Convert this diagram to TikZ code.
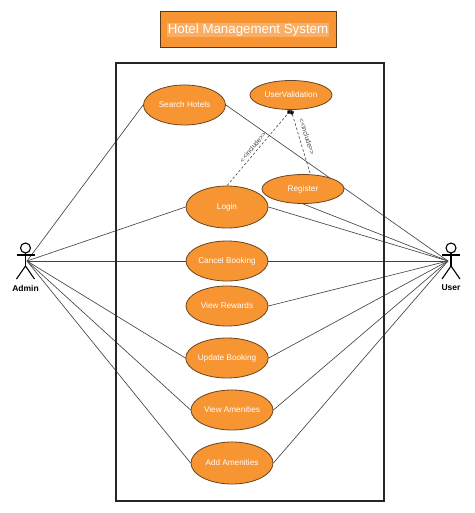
\documentclass[tikz,border=0pt]{standalone}
\usepackage{fontspec}
\setmainfont{Liberation Sans}
\usetikzlibrary{arrows.meta,shapes.geometric}
\definecolor{uc}{HTML}{F79532}
\definecolor{ucline}{HTML}{6B4520}
\definecolor{hl}{HTML}{FBAE63}
\definecolor{ln}{HTML}{444444}
\pgfdeclarelayer{linelayer}
\pgfsetlayers{linelayer,main}
\tikzset{
  x=1pt,y=-1pt,
  usecase/.style={ellipse,draw=ucline,fill=uc,line width=.8pt,text=white,font=\fontsize{8.2}{10}\selectfont,inner sep=0pt,minimum width=82pt},
  assoc/.style={draw=ln,line width=.65pt},
  incl/.style={draw=ln,line width=.6pt,dash pattern=on 2.5pt off 2pt,-{Diamond[fill=black,length=5.5pt,width=5pt]}},
  incllabel/.style={font=\fontsize{6.8}{8}\selectfont,text=ln,inner sep=0pt},
  actorline/.style={draw=black,line width=1.1pt},
  actorlabel/.style={font=\fontsize{8.5}{10}\selectfont\bfseries,text=black,inner sep=0pt},
}
\begin{document}
\begin{tikzpicture}
\useasboundingbox (0,0) rectangle (474,513);
% title
\node[draw=ucline!80!black,fill=uc,line width=1pt,minimum width=176pt,minimum height=36pt,inner sep=0pt] (title) at (248,30) {};
\node[fill=hl,text=white,inner sep=1pt,font=\fontsize{13.3}{15}\selectfont] (titletext) at (248,30) {Hotel Management System};
% system boundary
\node[draw=black!85,line width=1.1pt,minimum width=268pt,minimum height=438pt,inner sep=0pt] (system) at (250,282) {};
% actors
\coordinate (adminhub) at (27,261);
\coordinate (userhub) at (448,261);
\foreach \cx in {25.5,451}{
  \draw[actorline] (\cx,248) circle (5pt);
  \draw[actorline] (\cx,253) -- (\cx,266);
  \draw[actorline] (\cx-9,255) -- (\cx+9,255);
  \draw[actorline] (\cx-9,279) -- (\cx,266) -- (\cx+9,279);
}
\node[actorlabel] (adminlabel) at (25.5,288) {Admin};
\node[actorlabel] (userlabel) at (451,288) {User};
% use cases
\node[usecase,minimum height=40pt] (search) at (184.5,105) {Search Hotels};
\node[usecase,minimum height=29pt] (valid) at (291,95) {UserValidation};
\node[usecase,minimum height=42pt] (login) at (227,207) {Login};
\node[usecase,minimum height=29pt] (register) at (303,189) {Register};
\node[usecase,minimum height=40pt] (cancel) at (227,261) {Cancel Booking};
\node[usecase,minimum height=40pt] (rewards) at (227,306) {View Rewards};
\node[usecase,minimum height=40pt] (update) at (227,358) {Update Booking};
\node[usecase,minimum height=40pt] (viewam) at (232,410) {View Amenities};
\node[usecase,minimum height=42pt] (addam) at (232,463) {Add Amenities};
% associations
\begin{pgfonlayer}{linelayer}
\foreach \uc in {search,login,cancel,update,viewam,addam}{
  \draw[assoc] (adminhub) -- (\uc.west);
}
\foreach \uc in {search,login,cancel,rewards,update,viewam,addam}{
  \draw[assoc] (userhub) -- (\uc.east);
}
\draw[assoc] (userhub) -- (register.south);
\end{pgfonlayer}
% includes
\coordinate (regtop) at ([xshift=7pt,yshift=1pt]register.north);
\draw[incl] (login.north) -- (valid.south);
\draw[incl] (regtop) -- (valid.south);
\node[incllabel,rotate=51] (inc1) at (253,147) {{<}{<}include{>}{>}};
\node[incllabel,rotate=-72] (inc2) at (307,137) {{<}{<}include{>}{>}};
\end{tikzpicture}
\end{document}
